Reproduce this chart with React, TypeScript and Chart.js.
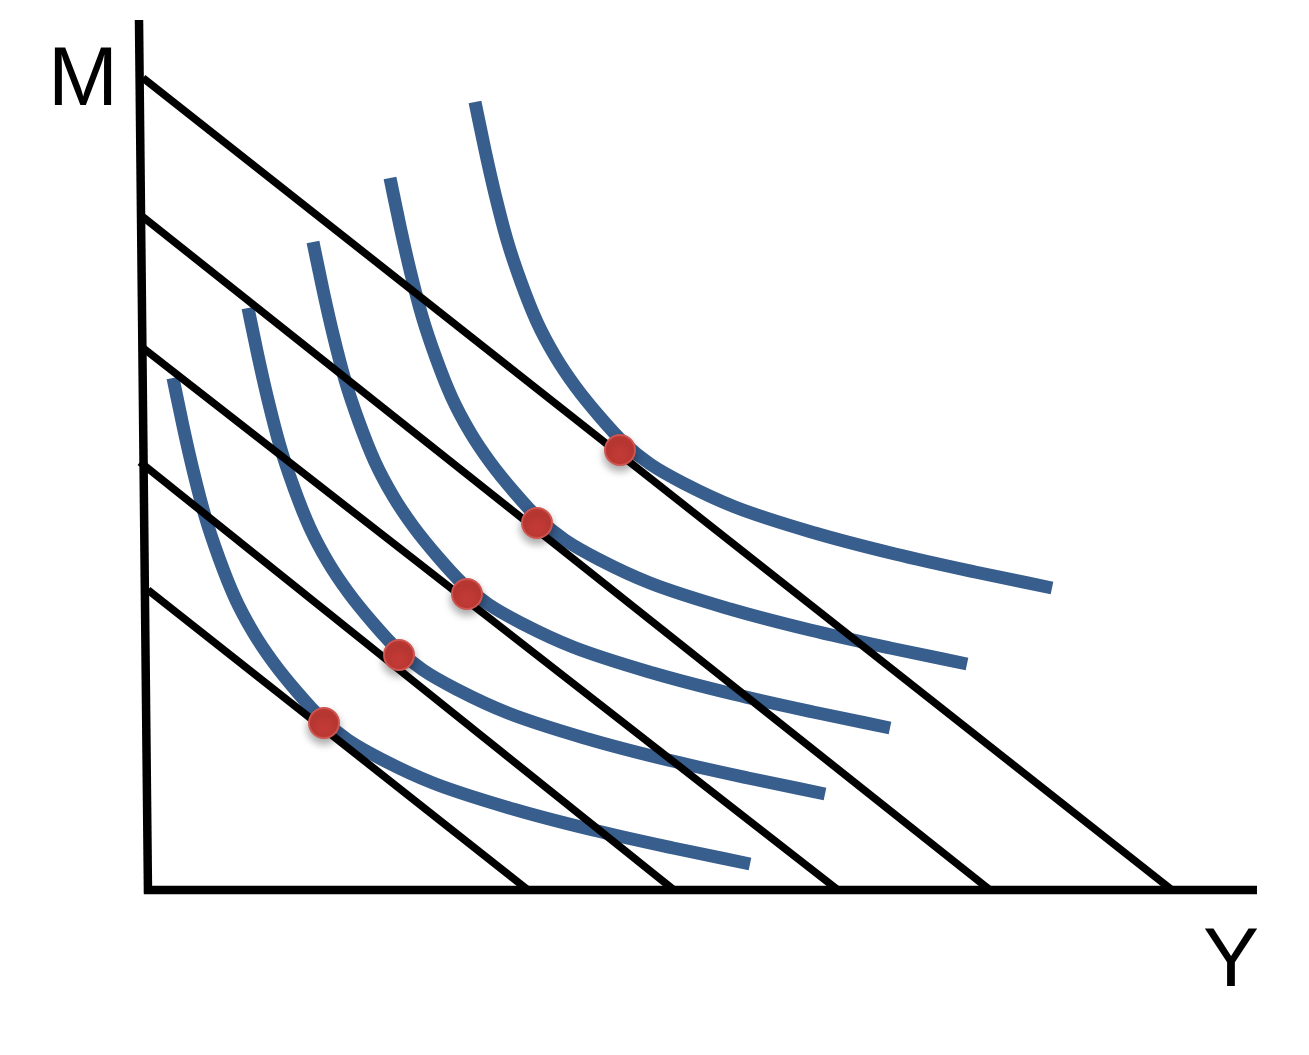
import React, { useEffect, useRef } from "react";
import { Chart, registerables } from "chart.js";

Chart.register(...registerables);

type P = { x: number; y: number };
const pts = (xs: number[], ys: number[]): P[] => xs.map((x, i) => ({ x, y: ys[i] }));

// Indifference curves (Y quantity on x, M quantity on y)
const curveAX = [32.7, 33.7, 34.7, 35.9, 37.3, 38.9, 40.7, 42.7, 45.2, 47.7, 50.2, 53.7, 58.7, 66.7, 74.7, 82.7, 90.4];
const curveAY = [78.8, 74.0, 69.6, 65.0, 60.8, 56.8, 53.4, 50.4, 47.3, 44.6, 42.6, 40.6, 38.3, 35.7, 33.6, 31.8, 30.2];
const curveBX = [24.2, 25.2, 26.2, 27.4, 28.8, 30.4, 32.2, 34.2, 36.7, 39.2, 41.7, 45.2, 50.2, 58.2, 66.2, 74.2, 81.9];
const curveBY = [71.2, 66.4, 62.0, 57.4, 53.2, 49.2, 45.8, 42.8, 39.7, 37.0, 35.0, 33.0, 30.7, 28.1, 26.0, 24.2, 22.6];
const curveCX = [16.5, 17.5, 18.5, 19.7, 21.1, 22.7, 24.5, 26.5, 29.0, 31.5, 34.0, 37.5, 42.5, 50.5, 58.5, 66.5, 74.2];
const curveCY = [64.8, 60.0, 55.6, 51.0, 46.8, 42.8, 39.4, 36.4, 33.3, 30.6, 28.6, 26.6, 24.3, 21.7, 19.6, 17.8, 16.2];
const curveDX = [10.0, 11.0, 12.0, 13.2, 14.6, 16.2, 18.0, 20.0, 22.5, 25.0, 27.5, 31.0, 36.0, 44.0, 52.0, 60.0, 67.7];
const curveDY = [58.2, 53.4, 49.0, 44.4, 40.2, 36.2, 32.8, 29.8, 26.7, 24.0, 22.0, 20.0, 17.7, 15.1, 13.0, 11.2, 9.6];
const curveEX = [2.5, 3.5, 4.5, 5.7, 7.1, 8.7, 10.5, 12.5, 15.0, 17.5, 20.0, 23.5, 28.5, 36.5, 44.5, 52.5, 60.2];
const curveEY = [51.2, 46.4, 42.0, 37.4, 33.2, 29.2, 25.8, 22.8, 19.7, 17.0, 15.0, 13.0, 10.7, 8.1, 6.0, 4.2, 2.6];

// Budget lines: [start on M axis, end on Y axis]
const budget1: P[] = [{ x: -0.5, y: 81.2 }, { x: 102.4, y: 0 }];
const budget2: P[] = [{ x: -0.5, y: 67.3 }, { x: 84.2, y: 0 }];
const budget3: P[] = [{ x: -0.5, y: 54.2 }, { x: 69.0, y: 0 }];
const budget4: P[] = [{ x: -0.8, y: 42.8 }, { x: 52.6, y: 0 }];
const budget5: P[] = [{ x: 0.0, y: 30.0 }, { x: 38.0, y: 0 }];

// Tangency points
const optimaX = [47.2, 38.9, 31.9, 25.1, 17.6];
const optimaY = [44.0, 36.7, 29.6, 23.5, 16.7];

// Axes
const axisM: P[] = [{ x: -0.9, y: 87.0 }, { x: 0.0, y: -0.4 }];
const axisY: P[] = [{ x: -0.4, y: 0 }, { x: 110.9, y: 0 }];

const labelM = { text: "M", x: -6.5, y: 78.5 };
const labelY = { text: "Y", x: 108.3, y: -9.6 };

const BLUE = "#385e8d";

export default function App() {
  const ref = useRef<HTMLCanvasElement | null>(null);
  useEffect(() => {
    if (!ref.current) return;
    const curve = (data: P[]) => ({
      data,
      showLine: true,
      borderColor: BLUE,
      borderWidth: 13,
      borderCapStyle: "butt" as const,
      borderJoinStyle: "round" as const,
      cubicInterpolationMode: "monotone" as const,
      pointRadius: 0,
      order: 3,
    });
    const straight = (data: P[], w: number, order: number) => ({
      data,
      showLine: true,
      borderColor: "#000000",
      borderWidth: w,
      borderCapStyle: "butt" as const,
      pointRadius: 0,
      order,
    });
    const shadowPlugin = {
      id: "dotShadow",
      beforeDatasetDraw(chart: any, args: any) {
        if (chart.data.datasets[args.index].label === "optima") {
          const c = chart.ctx;
          c.save();
          c.shadowColor = "rgba(0,0,0,0.35)";
          c.shadowBlur = 8;
          c.shadowOffsetY = 5;
        }
      },
      afterDatasetDraw(chart: any, args: any) {
        if (chart.data.datasets[args.index].label === "optima") chart.ctx.restore();
      },
    };
    const labelPlugin = {
      id: "axisLabels",
      afterDraw(chart: any) {
        const c = chart.ctx;
        const xs = chart.scales.x;
        const ys = chart.scales.y;
        c.save();
        c.fillStyle = "#000";
        c.font = '84px "Liberation Sans", Arial, sans-serif';
        c.textAlign = "center";
        c.textBaseline = "alphabetic";
        for (const l of [labelM, labelY]) {
          c.fillText(l.text, xs.getPixelForValue(l.x), ys.getPixelForValue(l.y));
        }
        c.restore();
      },
    };
    const chart = new Chart(ref.current, {
      type: "scatter",
      data: {
        datasets: [
          {
            label: "optima",
            data: pts(optimaX, optimaY),
            pointRadius: 15,
            pointHoverRadius: 15,
            backgroundColor: "#c23a35",
            borderColor: "#cf5550",
            borderWidth: 2,
            order: 0,
          } as any,
          straight(axisM, 8.5, 1),
          straight(axisY, 8.5, 1),
          straight(budget1, 7.5, 2),
          straight(budget2, 7.5, 2),
          straight(budget3, 7.5, 2),
          straight(budget4, 7.5, 2),
          straight(budget5, 7.5, 2),
          curve(pts(curveAX, curveAY)),
          curve(pts(curveBX, curveBY)),
          curve(pts(curveCX, curveCY)),
          curve(pts(curveDX, curveDY)),
          curve(pts(curveEX, curveEY)),
        ],
      },
      options: {
        animation: false,
        responsive: false,
        maintainAspectRatio: false,
        clip: false as any,
        layout: { padding: 0, autoPadding: false },
        plugins: { legend: { display: false }, tooltip: { enabled: false } },
        events: [],
        scales: {
          x: { type: "linear", min: -14.8, max: 116.1, display: false },
          y: { type: "linear", min: -16.5, max: 89.0, display: false },
        },
      },
      plugins: [shadowPlugin, labelPlugin],
    });
    return () => chart.destroy();
  }, []);
  return (
    <div style={{ position: "fixed", left: 0, top: 0, width: 1309, height: 1055, background: "#fff" }}>
      <canvas ref={ref} width={1309} height={1055} style={{ display: "block" }} />
    </div>
  );
}
